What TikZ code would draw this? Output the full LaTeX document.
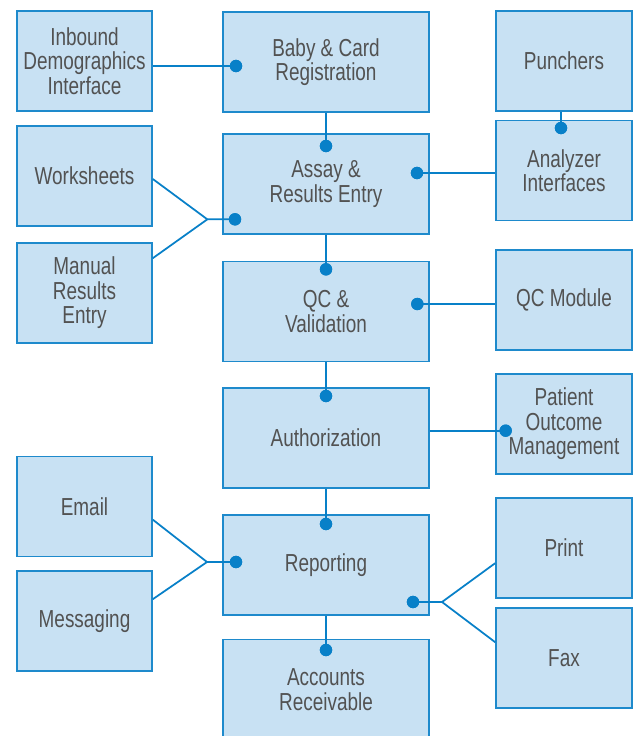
\documentclass[tikz,border=0pt]{standalone}
\usepackage{fontspec}
\setmainfont{Liberation Sans}[FakeStretch=0.77]
\usetikzlibrary{calc}

\definecolor{boxfill}{HTML}{C8E1F3}
\definecolor{boxline}{HTML}{1E8ACC}
\definecolor{dotblue}{HTML}{0880C8}
\definecolor{textgray}{HTML}{525252}

\begin{document}
\begin{tikzpicture}[
    module/.style={
      rectangle,
      minimum height=3cm,
      text centered,
      align=center,
      draw=boxline,
      fill=boxfill,
      line width=1.4pt,
      text=textgray,
      font=\fontsize{21}{20.8}\selectfont
    },
    side/.style={module, minimum width=4.05cm},
    core/.style={module, minimum width=6.18cm},
    link/.style={
      draw=dotblue,
      line width=1.5pt
    },
    dot/.style={
      circle,
      fill=dotblue,
      inner sep=0pt,
      minimum size=0.37cm
    }
  ]

    % Fixed canvas
    \useasboundingbox (0,0) rectangle (18.99,-22.08);

    % Middle column: main workflow
    \node (baby) [core] at (9.78,-1.86) {Baby \& Card\\Registration};
    \node (assay) [core] at (9.78,-5.52) {Assay \&\\Results Entry};
    \node (qc) [core] at (9.78,-9.345) {QC \&\\Validation};
    \node (auth) [core] at (9.78,-13.14) {Authorization};
    \node (report) [core] at (9.78,-16.95) {Reporting};
    \node (accounts) [core] at (9.78,-20.685) {Accounts\\Receivable};

    % Left column: inputs and outputs
    \node (inbound) [side] at (2.535,-1.83) {Inbound\\Demographics\\Interface};
    \node (worksheets) [side] at (2.535,-5.28) {Worksheets};
    \node (manual) [side] at (2.535,-8.79) {Manual\\Results\\Entry};
    \node (email) [side] at (2.535,-15.195) {Email};
    \node (messaging) [side] at (2.535,-18.63) {Messaging};

    % Right column: instruments and modules
    \node (punchers) [side, minimum width=4.08cm] at (16.92,-1.83) {Punchers};
    \node (analyzer) [side, minimum width=4.08cm] at (16.92,-5.115) {Analyzer\\Interfaces};
    \node (qcmod) [side, minimum width=4.08cm] at (16.92,-9.0) {QC Module};
    \node (patient) [side, minimum width=4.08cm] at (16.92,-12.72) {Patient\\Outcome\\Management};
    \node (print) [side, minimum width=4.08cm] at (16.92,-16.44) {Print};
    \node (fax) [side, minimum width=4.08cm] at (16.92,-19.74) {Fax};

    % Connection dots
    \node (dBaby) [dot] at (7.08,-1.98) {};
    \node (dAssayTop) [dot] at (9.78,-4.38) {};
    \node (dAssayRight) [dot] at (12.51,-5.19) {};
    \node (dAssayLeft) [dot] at (7.05,-6.58) {};
    \node (dAnalyzer) [dot] at (16.83,-3.84) {};
    \node (dQCTop) [dot] at (9.78,-8.08) {};
    \node (dQCRight) [dot] at (12.52,-9.12) {};
    \node (dAuthTop) [dot] at (9.78,-11.88) {};
    \node (dPatient) [dot] at (15.17,-12.92) {};
    \node (dRepTop) [dot] at (9.78,-15.72) {};
    \node (dRepLeft) [dot] at (7.08,-16.86) {};
    \node (dRepRight) [dot] at (12.39,-18.06) {};
    \node (dAccTop) [dot] at (9.78,-19.5) {};

    % Fork points
    \coordinate (jAssay) at (6.22,-6.58);
    \coordinate (jReport) at (6.21,-16.86);
    \coordinate (jOut) at (13.26,-18.06);

    % Vertical chain
    \draw [link] (baby.south) -- (dAssayTop.center);
    \draw [link] (assay.south) -- (dQCTop.center);
    \draw [link] (qc.south) -- (dAuthTop.center);
    \draw [link] (auth.south) -- (dRepTop.center);
    \draw [link] (report.south) -- (dAccTop.center);
    \draw [link] (dAnalyzer.center |- punchers.south) -- (dAnalyzer.center);

    % Horizontal links
    \draw [link] (dBaby.center -| inbound.east) -- (dBaby.center);
    \draw [link] (dAssayRight.center) -- (dAssayRight.center -| analyzer.west);
    \draw [link] (dQCRight.center) -- (dQCRight.center -| qcmod.west);
    \draw [link] (dPatient.center -| auth.east) -- (dPatient.center);

    % Forks
    \draw [link] ($(worksheets.east)+(0,-0.09)$) -- (jAssay) -- (dAssayLeft.center);
    \draw [link] ($(manual.north east)+(0,-0.48)$) -- (jAssay);
    \draw [link] ($(email.north east)+(0,-1.92)$) -- (jReport) -- (dRepLeft.center);
    \draw [link] ($(messaging.north east)+(0,-0.87)$) -- (jReport);
    \draw [link] (dRepRight.center) -- (jOut) -- ($(print.north west)+(0,-1.98)$);
    \draw [link] (jOut) -- ($(fax.north west)+(0,-1.05)$);

    % Dots on top
    \foreach \d in {dBaby,dAssayTop,dAssayRight,dAssayLeft,dAnalyzer,dQCTop,dQCRight,dAuthTop,dPatient,dRepTop,dRepLeft,dRepRight,dAccTop}
      \fill [dotblue] (\d) circle (0.185cm);

  \end{tikzpicture}
\end{document}
